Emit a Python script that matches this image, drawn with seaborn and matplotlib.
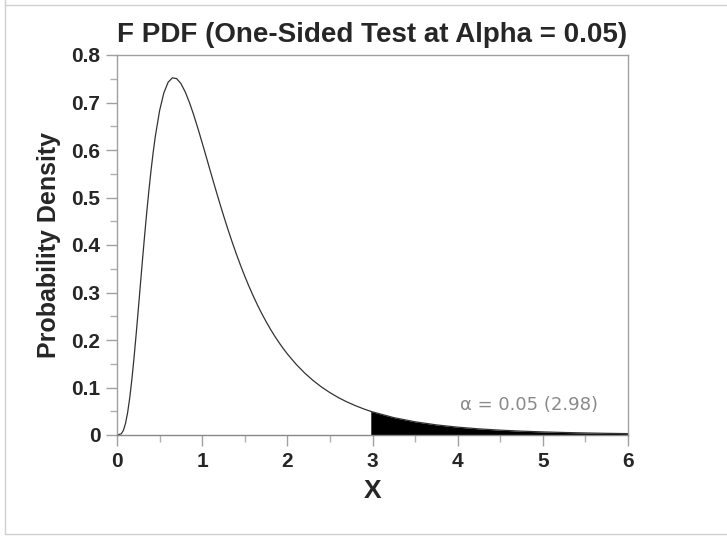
import numpy as np
import pandas as pd
import matplotlib
matplotlib.use("Agg")
import matplotlib.pyplot as plt
import seaborn as sns
from matplotlib.ticker import MultipleLocator

# Values
x_vals = [0.0, 0.05, 0.075, 0.1, 0.125, 0.15, 0.175, 0.2, 0.225, 0.25, 0.275, 0.3,
          0.325, 0.35, 0.375, 0.4, 0.425, 0.45, 0.5, 0.55, 0.6, 0.65, 0.7, 0.75,
          0.8, 0.85, 0.9, 0.95, 1.0, 1.05, 1.1, 1.15, 1.2, 1.25, 1.3, 1.35, 1.4,
          1.45, 1.5, 1.55, 1.6, 1.65, 1.7, 1.75, 1.8, 1.85, 1.9, 1.95, 2.0, 2.1,
          2.2, 2.3, 2.4, 2.5, 2.6, 2.7, 2.8, 2.9, 2.98, 3.0, 3.25, 3.5, 3.75,
          4.0, 4.25, 4.5, 4.75, 5.0, 5.25, 5.5, 5.75, 6.0]
density = [0.0, 0.0024, 0.0097, 0.0243, 0.0474, 0.0788, 0.1178, 0.1628, 0.2122,
           0.2642, 0.3173, 0.3702, 0.4214, 0.4702, 0.5157, 0.5576, 0.5954, 0.6288,
           0.6828, 0.7202, 0.7426, 0.7519, 0.7503, 0.7400, 0.7227, 0.7003, 0.6742,
           0.6455, 0.6152, 0.5843, 0.5530, 0.5221, 0.4919, 0.4625, 0.4343, 0.4074,
           0.3817, 0.3574, 0.3344, 0.3128, 0.2925, 0.2734, 0.2556, 0.2389, 0.2233,
           0.2087, 0.1952, 0.1825, 0.1707, 0.1495, 0.1311, 0.1151, 0.1012, 0.0892,
           0.0787, 0.0696, 0.0617, 0.0547, 0.0498, 0.0487, 0.0366, 0.0278, 0.0213,
           0.0165, 0.0129, 0.0102, 0.0081, 0.0065, 0.0053, 0.0043, 0.0035, 0.0029]
critical = 2.98
alpha_label = "\u03b1 = 0.05 (2.98)"

df = pd.DataFrame({"x": x_vals, "pdf": density})
tail = df[df["x"] >= critical]

sns.set_theme(style="white")
plt.rcParams["font.family"] = ["Liberation Sans", "DejaVu Sans"]

fig = plt.figure(figsize=(7.27, 5.39), dpi=100)
ax = fig.add_axes([117 / 727, 1 - 435 / 539, 511 / 727, 380 / 539])

sns.lineplot(data=df, x="x", y="pdf", ax=ax, color="#333333", linewidth=0.9)
ax.fill_between(tail["x"], tail["pdf"], 0, color="black", linewidth=0)

ax.set_xlim(0, 6)
ax.set_ylim(0, 0.8)
ax.xaxis.set_major_locator(MultipleLocator(1))
ax.xaxis.set_minor_locator(MultipleLocator(0.5))
ax.yaxis.set_major_locator(MultipleLocator(0.1))
ax.yaxis.set_minor_locator(MultipleLocator(0.05))
ax.set_xticks(range(7))
ax.set_xticklabels([str(v) for v in range(7)], fontsize=15, fontweight="bold")
yt = [i / 10 for i in range(9)]
ax.set_yticks(yt)
ax.set_yticklabels(["0" if v == 0 else f"{v:.1f}" for v in yt],
                   fontsize=15, fontweight="bold")

for s in ax.spines.values():
    s.set_color("#a0a0a0")
    s.set_linewidth(1.0)
ax.spines["bottom"].set_color("#888888")

ax.tick_params(which="major", direction="out", length=8, width=1, color="#a0a0a0",
               pad=4, bottom=True, left=True)
ax.tick_params(which="minor", direction="out", length=5, width=1, color="#b0b0b0",
               bottom=True, left=True)

ax.set_xlabel("X", fontsize=19, fontweight="bold", labelpad=6)
ax.set_ylabel("Probability Density", fontsize=18, fontweight="bold", labelpad=7)
ax.set_title("F PDF (One-Sided Test at Alpha = 0.05)", fontsize=20,
             fontweight="bold", pad=9)

ax.text(4.84, 0.044, alpha_label, fontsize=13, color="#8a8a8a", ha="center",
        va="bottom", family=["Liberation Sans Narrow", "DejaVu Sans"])

# light frame around the picture
for coords in [([5, 5], [0, 534]), ([5, 727], [534, 534]), ([5, 727], [5, 5])]:
    fig.add_artist(plt.Line2D([c / 727 for c in coords[0]],
                              [1 - c / 539 for c in coords[1]],
                              color="#d0d0d0", linewidth=1))

fig.savefig("out.png", dpi=100)
